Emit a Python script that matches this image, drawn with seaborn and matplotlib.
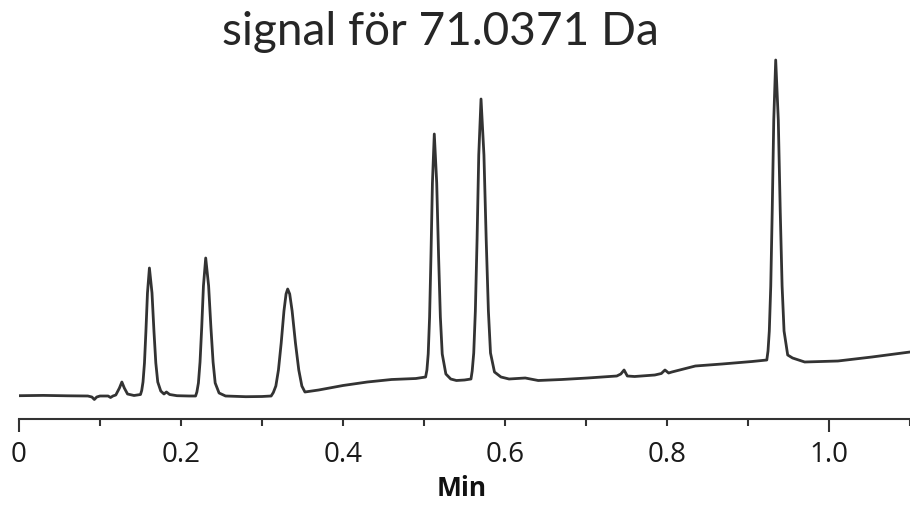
import pandas as pd
import seaborn as sns
import matplotlib.pyplot as plt

# trace (time in min, signal in arbitrary units)
time_min = [
    0.0, 0.03, 0.06, 0.085, 0.090, 0.093, 0.096, 0.100, 0.110, 0.113, 0.116,
    0.1195, 0.124, 0.127, 0.130, 0.134, 0.142,
    0.150, 0.1515, 0.1531, 0.1549, 0.1567, 0.1586, 0.161, 0.1642, 0.1666, 0.1689, 0.1713,
    0.175, 0.179, 0.182, 0.186, 0.195, 0.210,
    0.218, 0.2196, 0.2215, 0.2235, 0.2256, 0.2277, 0.2305, 0.2341, 0.2369, 0.2396, 0.2422,
    0.247, 0.255, 0.28, 0.30,
    0.3113, 0.314, 0.3171, 0.3203, 0.3237, 0.3271, 0.3297, 0.3317, 0.3342, 0.3372,
    0.3413, 0.3454, 0.3492,
    0.353, 0.37, 0.40, 0.43, 0.46, 0.49,
    0.502, 0.5036, 0.5052, 0.5069, 0.5086, 0.5104, 0.5127, 0.5157, 0.518, 0.5202, 0.5225,
    0.527, 0.533, 0.540, 0.550,
    0.558, 0.5595, 0.5614, 0.5634, 0.5655, 0.5676, 0.5704, 0.574, 0.5768, 0.5795, 0.5821,
    0.587, 0.595, 0.605, 0.625, 0.641, 0.67, 0.702, 0.738,
    0.743, 0.747, 0.751, 0.76, 0.785, 0.793, 0.7975, 0.802, 0.806, 0.835, 0.868, 0.905,
    0.9232, 0.9247, 0.9263, 0.9281, 0.9299, 0.9318, 0.9342, 0.9374, 0.9398, 0.9421, 0.9445,
    0.949, 0.955, 0.97, 1.011, 1.053, 1.1,
]
signal = [
    23.3, 23.6, 23.2, 23, 22, 19.5, 22, 23, 23, 21.5, 23,
    24, 31, 37, 31, 25, 23.5,
    24.5, 28.5, 37, 56, 88, 126, 151, 126, 88, 56, 37,
    28, 25, 27, 24.5, 23.3, 23,
    23, 27, 36, 57, 92, 133, 161, 133, 92, 57, 36,
    26, 23, 22.3, 22.5,
    23, 26.5, 33, 49, 76, 108, 125, 130, 125, 108,
    76, 49, 33,
    27, 29, 33.5, 37, 39.5, 40.5,
    42, 49, 65, 102, 163, 236, 285, 236, 163, 102, 65,
    45, 40, 38.5, 39,
    40, 48, 66, 108, 179, 264, 320, 264, 179, 108, 66,
    47, 42, 40, 41, 38.5, 39.5, 41, 43,
    45, 49, 43, 42.5, 44, 45.5, 49, 46, 47, 53, 55, 57.5,
    59, 68, 88, 133, 208, 299, 359, 299, 208, 133, 88,
    64, 61, 57, 58, 62, 67,
]

long_ticks = [0, 1.0]
long_labels = ["0", "1.0"]
short_ticks = [0.1, 0.2, 0.3, 0.4, 0.5, 0.6, 0.7, 0.8, 0.9, 1.1]
short_labels = ["", "0.2", "", "0.4", "", "0.6", "", "0.8", "", ""]

title = "signal för 71.0371 Da"

df = pd.DataFrame({"Min": time_min, "signal": signal})

sns.set_style("white")
plt.rcParams["font.family"] = ["Open Sans", "DejaVu Sans"]

fig = plt.figure(figsize=(9.1, 5.06), dpi=100)
ax = fig.add_axes([19 / 910, 1 - 420 / 506, 891 / 910, 365 / 506])

sns.lineplot(data=df, x="Min", y="signal", estimator=None, color="#333333",
             linewidth=2.0, ax=ax)

ax.set_xlim(0, 1.1)
ax.set_ylim(0, 365)
for side in ["left", "right", "top"]:
    ax.spines[side].set_visible(False)
ax.spines["bottom"].set_linewidth(1.5)
ax.spines["bottom"].set_color("#333333")
ax.set_yticks([])
ax.set_ylabel("")

ax.set_xticks(long_ticks, long_labels)
ax.set_xticks(short_ticks, short_labels, minor=True)
ax.tick_params(axis="x", which="major", length=9, width=1.5, color="#333333",
               pad=6, labelsize=20, labelcolor="#1a1a1a", bottom=True)
ax.tick_params(axis="x", which="minor", length=5, width=1.5, color="#333333",
               pad=10, labelsize=20, labelcolor="#1a1a1a", bottom=True)
ax.set_xlabel("Min", fontsize=19, fontweight="bold", color="#111111")
ax.xaxis.set_label_coords((462 - 19) / 891, -55 / 365)

fig.text(440 / 910, 1 - 45 / 506, title, ha="center", va="baseline",
         fontsize=33, family=["Lato", "DejaVu Sans"])

fig.savefig("out.png", dpi=100)
